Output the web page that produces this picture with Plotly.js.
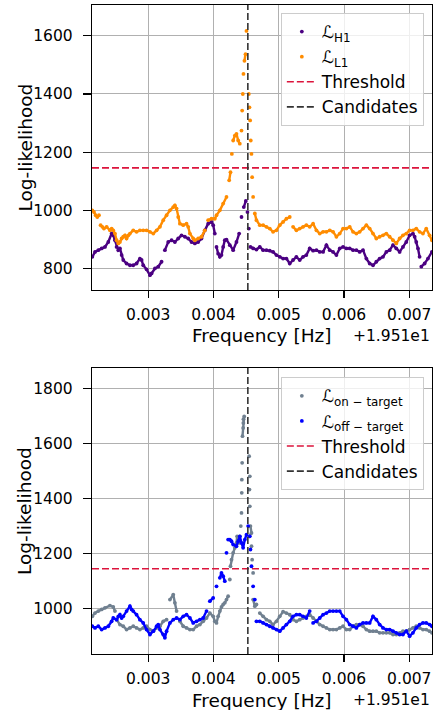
<!DOCTYPE html>
<html>
<head>
<meta charset="utf-8">
<script src="https://cdn.plot.ly/plotly-3.0.1.min.js"></script>
<style>html,body{margin:0;padding:0;background:#fff;}#chart{width:439px;height:710px;}</style>
</head>
<body>
<div id="chart"></div>
<script>
// Frequency offset (Hz) from the axis offset +1.951e1
const F0 = 19.51;
const offsetLabel = "+1.951e1";
const xTitle = "Frequency [Hz]";
const yTitle = "Log-likelihood";

// ---------- Top panel: per-detector log-likelihoods (frequency offsets in mHz) ----------
const h1FreqMHz = [2.143,2.184,2.235,2.286,2.337,2.388,2.439,2.464,2.490,2.515,2.541,2.566,2.592,2.617,2.668,2.719,2.770,2.821,2.872,2.898,2.923,2.974,3.026,3.051,3.102,3.153,3.204,3.255,3.306,3.357,3.408,3.459,3.510,3.561,3.612,3.663,3.714,3.765,3.816,3.867,3.918,3.969,3.995,4.020,4.046,4.071,4.097,4.122,4.148,4.173,4.199,4.250,4.301,4.352,4.393,4.429,4.464,4.495,4.520,4.541,4.566,4.607,4.658,4.709,4.760,4.811,4.862,4.913,4.964,5.015,5.066,5.117,5.168,5.219,5.270,5.321,5.372,5.423,5.474,5.526,5.577,5.628,5.679,5.730,5.781,5.832,5.883,5.934,5.985,6.036,6.087,6.138,6.189,6.240,6.291,6.342,6.393,6.444,6.495,6.546,6.597,6.648,6.699,6.750,6.801,6.852,6.903,6.954,7.005,7.056,7.082,7.107,7.133,7.158,7.184,7.235,7.286,7.347];
const h1LogL = [840,857,863,869,874,891,920,914,897,874,863,869,846,829,817,811,811,817,834,829,811,797,777,783,800,806,823,863,891,897,891,903,914,909,903,891,886,891,903,931,954,960,949,920,874,851,840,846,874,897,899,880,863,891,920,977,1011,1032,994,937,874,869,865,874,863,863,861,857,846,840,834,834,817,829,840,829,840,846,869,861,863,857,857,880,863,857,846,869,874,869,869,863,863,857,863,834,817,811,823,834,840,857,863,880,869,857,874,891,914,920,909,891,869,840,806,817,834,857];

const l1FreqMHz = [2.143,2.168,2.194,2.219,2.245,2.270,2.296,2.321,2.362,2.413,2.439,2.464,2.490,2.515,2.541,2.566,2.592,2.617,2.643,2.668,2.694,2.719,2.770,2.821,2.872,2.923,2.974,3.026,3.077,3.128,3.179,3.230,3.281,3.332,3.383,3.408,3.434,3.459,3.485,3.536,3.587,3.612,3.638,3.689,3.714,3.765,3.816,3.867,3.918,3.969,4.020,4.046,4.097,4.148,4.199,4.240,4.260,4.281,4.301,4.327,4.352,4.378,4.403,4.429,4.439,4.449,4.459,4.474,4.490,4.505,4.541,4.551,4.561,4.571,4.582,4.592,4.607,4.633,4.658,4.709,4.760,4.811,4.862,4.913,4.964,5.015,5.066,5.117,5.168,5.219,5.270,5.321,5.372,5.423,5.474,5.526,5.577,5.628,5.679,5.730,5.781,5.832,5.883,5.934,5.985,6.036,6.087,6.138,6.189,6.240,6.291,6.342,6.393,6.444,6.495,6.546,6.597,6.648,6.699,6.750,6.801,6.852,6.903,6.954,7.005,7.056,7.107,7.158,7.209,7.260,7.311,7.347];
const l1LogL = [1000,994,983,977,983,949,943,937,943,931,937,931,920,897,886,891,903,909,914,903,914,920,931,926,931,931,931,926,920,931,943,966,983,1000,1011,1017,1006,977,954,949,954,943,920,903,897,903,909,931,966,971,971,983,1000,1023,1046,1103,1131,1194,1240,1257,1263,1240,1229,1274,1343,1400,1469,1514,1537,1617,1400,1354,1309,1240,1194,1114,1046,989,966,949,949,943,937,926,931,949,960,971,977,943,931,937,943,949,943,954,931,920,926,926,931,926,909,920,937,937,943,926,920,926,937,949,937,920,903,909,914,920,909,897,886,903,914,920,931,931,937,926,920,937,914,897];

// ---------- Bottom panel: on-target / off-target log-likelihoods ----------
const onFreqMHz = [2.143,2.184,2.235,2.286,2.337,2.413,2.464,2.490,2.515,2.566,2.617,2.668,2.719,2.770,2.821,2.872,2.923,2.974,3.026,3.077,3.128,3.179,3.230,3.281,3.332,3.383,3.408,3.434,3.485,3.536,3.587,3.638,3.689,3.740,3.791,3.842,3.893,3.944,3.995,4.020,4.046,4.071,4.097,4.122,4.148,4.173,4.199,4.224,4.250,4.260,4.276,4.301,4.327,4.352,4.362,4.393,4.403,4.418,4.429,4.433,4.434,4.439,4.444,4.454,4.457,4.459,4.470,4.546,4.556,4.551,4.556,4.566,4.582,4.546,4.582,4.592,4.607,4.607,4.633,4.658,4.709,4.760,4.811,4.862,4.913,4.964,5.015,5.066,5.117,5.168,5.219,5.270,5.321,5.372,5.423,5.474,5.526,5.577,5.628,5.679,5.730,5.781,5.832,5.883,5.934,5.985,6.036,6.087,6.138,6.189,6.240,6.291,6.342,6.393,6.444,6.495,6.546,6.597,6.648,6.699,6.750,6.801,6.852,6.903,6.954,7.005,7.056,7.107,7.158,7.209,7.260,7.311,7.347];
const onLogL = [973,985,992,998,1004,1012,1007,992,961,943,937,925,931,937,931,925,931,937,925,919,931,937,955,961,1034,1052,1022,992,955,937,931,925,925,937,943,955,967,985,973,955,949,973,992,1007,1016,1022,1034,1046,1107,1155,1179,1204,1222,1240,1264,1240,1264,1301,1349,1422,1470,1531,1628,1658,1676,1690,1700,1555,1482,1434,1373,1301,1276,1264,1228,1179,1131,1034,1010,1016,985,973,961,955,943,955,973,990,985,979,961,955,961,967,973,979,967,955,943,937,931,925,925,925,931,937,925,925,937,943,943,937,925,919,919,919,913,913,913,913,907,907,913,919,919,925,931,937,931,925,925,919,913];

const offFreqMHz = [2.143,2.184,2.235,2.286,2.337,2.388,2.439,2.464,2.515,2.541,2.566,2.592,2.617,2.668,2.719,2.745,2.770,2.821,2.872,2.923,2.974,3.026,3.077,3.128,3.153,3.179,3.230,3.255,3.281,3.332,3.383,3.434,3.485,3.536,3.587,3.638,3.689,3.740,3.791,3.842,3.893,3.944,3.995,4.046,4.097,4.122,4.148,4.173,4.199,4.224,4.250,4.276,4.301,4.352,4.378,4.403,4.429,4.454,4.480,4.505,4.531,4.556,4.566,4.582,4.607,4.633,4.658,4.709,4.760,4.811,4.862,4.913,4.964,5.015,5.066,5.117,5.168,5.219,5.270,5.321,5.372,5.423,5.474,5.526,5.577,5.628,5.679,5.730,5.781,5.832,5.883,5.934,5.985,6.036,6.087,6.138,6.189,6.240,6.291,6.342,6.393,6.444,6.495,6.546,6.597,6.648,6.699,6.750,6.801,6.852,6.903,6.954,7.005,7.056,7.107,7.158,7.209,7.260,7.311,7.347];
const offLogL = [937,931,937,925,931,937,955,967,961,973,979,967,973,992,1010,998,992,979,961,949,925,907,919,937,943,925,907,895,919,949,961,967,961,973,979,967,949,955,961,967,992,1028,1040,1082,1113,1131,1119,1101,1204,1252,1252,1246,1234,1228,1246,1264,1240,1222,1252,1270,1301,1264,1216,1155,1082,1034,955,955,949,943,937,931,925,919,931,943,955,973,979,979,973,967,992,949,955,967,979,985,992,992,992,992,973,961,943,937,931,943,949,949,949,973,961,943,931,925,925,919,913,907,907,919,901,913,931,943,949,949,943,937];

// ---------- Reference lines ----------
const thresholdLogL = 1146;
const candidateFreqMHz = [4.526];

// ---------- Axes ----------
const xTickOffsetsMHz = [3, 4, 5, 6, 7];
const xTickLabels = ["0.003", "0.004", "0.005", "0.006", "0.007"];
const xRangeMHz = [2.138, 7.348];
const topYRange = [726, 1706];
const topYTicks = [800, 1000, 1200, 1400, 1600];
const botYRange = [836, 1876];
const botYTicks = [1000, 1200, 1400, 1600, 1800];

const toHz = a => a.map(v => F0 + v * 1e-3);
const xRange = toHz(xRangeMHz);
const FONT = "DejaVu Sans, Arial, sans-serif";
const TOP_DOM = [0.5609, 1], BOT_DOM = [0, 0.4407];

// dense band: thin connecting stroke between neighbouring samples (broken at big jumps)
const bandTrace = (fx, y, color, xa, ya) => {
  const X = [], Y = [];
  for (let i = 0; i < fx.length; i++) {
    if (i > 0 && Math.abs(y[i] - y[i - 1]) > 30) { X.push(null); Y.push(null); }
    X.push(F0 + fx[i] * 1e-3); Y.push(y[i]);
  }
  return {type: "scatter", mode: "lines", x: X, y: Y, xaxis: xa, yaxis: ya,
          showlegend: false, hoverinfo: "skip", connectgaps: false,
          line: {color: color, width: 2.4}};
};
const markerTrace = (fx, y, name, color, xa, ya, legend) => ({
  type: "scatter", mode: "markers", x: toHz(fx), y: y, name: name,
  xaxis: xa, yaxis: ya, legend: legend,
  marker: {color: color, size: 3.8, line: {width: 0}}
});
const thrTrace = (xa, ya, legend) => ({
  type: "scatter", mode: "lines", x: xRange, y: [thresholdLogL, thresholdLogL],
  name: "Threshold", xaxis: xa, yaxis: ya, legend: legend,
  line: {color: "#DC143C", width: 1.6, dash: "7px,3px"}
});
const candTrace = (xa, ya, legend, yr) => ({
  type: "scatter", mode: "lines",
  x: [toHz(candidateFreqMHz)[0], toHz(candidateFreqMHz)[0]], y: yr,
  name: "Candidates", xaxis: xa, yaxis: ya, legend: legend,
  line: {color: "#333333", width: 1.6, dash: "7px,3px"}
});

const data = [
  bandTrace(h1FreqMHz, h1LogL, "#4B0082", "x", "y"),
  markerTrace(h1FreqMHz, h1LogL, "ℒ<sub>H1</sub>", "#4B0082", "x", "y", "legend"),
  bandTrace(l1FreqMHz, l1LogL, "#FF8C00", "x", "y"),
  markerTrace(l1FreqMHz, l1LogL, "ℒ<sub>L1</sub>", "#FF8C00", "x", "y", "legend"),
  thrTrace("x", "y", "legend"),
  candTrace("x", "y", "legend", topYRange),
  bandTrace(onFreqMHz, onLogL, "#708090", "x2", "y2"),
  markerTrace(onFreqMHz, onLogL, "ℒ<sub>on − target</sub>", "#708090", "x2", "y2", "legend2"),
  bandTrace(offFreqMHz, offLogL, "#0000FF", "x2", "y2"),
  markerTrace(offFreqMHz, offLogL, "ℒ<sub>off − target</sub>", "#0000FF", "x2", "y2", "legend2"),
  thrTrace("x2", "y2", "legend2"),
  candTrace("x2", "y2", "legend2", botYRange)
];

const xAxisBase = (anchor) => ({
  anchor: anchor, range: xRange, tickmode: "array",
  tickvals: toHz(xTickOffsetsMHz), ticktext: xTickLabels,
  showgrid: true, gridcolor: "#b0b0b0", gridwidth: 1, zeroline: false,
  showline: true, mirror: true, linecolor: "#000", linewidth: 1.2,
  ticks: "outside", ticklen: 7, tickwidth: 1.2, tickcolor: "#000",
  ticklabelstandoff: 3,
  tickfont: {family: FONT, size: 15.5, color: "#000"},
  automargin: false
});
const yAxisBase = (anchor, dom, rng, ticks) => ({
  anchor: anchor, domain: dom, range: rng, tickmode: "array", tickvals: ticks,
  showgrid: true, gridcolor: "#b0b0b0", gridwidth: 1, zeroline: false,
  showline: true, mirror: true, linecolor: "#000", linewidth: 1.2,
  ticks: "outside", ticklen: 8, tickwidth: 1.2, tickcolor: "#000",
  ticklabelstandoff: 7,
  tickfont: {family: FONT, size: 15.5, color: "#000"},
  automargin: false
});

const legendBase = (y) => ({
  x: 0.976, xanchor: "right", y: y, yanchor: "top",
  bgcolor: "rgba(255,255,255,0.8)", bordercolor: "#cccccc", borderwidth: 1,
  font: {family: FONT, size: 17, color: "#000"}, tracegroupgap: 0
});

const titleFont = {family: FONT, size: 18.5, color: "#000"};
const tickFont = {family: FONT, size: 15.5, color: "#000"};
const panelAnnotations = (dom) => [
  {xref: "paper", yref: "paper", x: 0.5, y: dom[0], xanchor: "center", yanchor: "middle", yshift: -46,
   text: xTitle, showarrow: false, font: titleFont},
  {xref: "paper", yref: "paper", x: 1, y: dom[0], xanchor: "right", yanchor: "middle", yshift: -46,
   text: offsetLabel, showarrow: false, font: tickFont},
  {xref: "paper", yref: "paper", x: 0, y: (dom[0] + dom[1]) / 2, xanchor: "center", yanchor: "middle", xshift: -67,
   textangle: -90, text: yTitle, showarrow: false, font: titleFont}
];

const layout = {
  width: 439, height: 710,
  margin: {l: 92, r: 7, t: 5, b: 56},
  paper_bgcolor: "#fff", plot_bgcolor: "#fff",
  showlegend: true,
  xaxis: xAxisBase("y"),
  yaxis: yAxisBase("x", TOP_DOM, topYRange, topYTicks),
  xaxis2: xAxisBase("y2"),
  yaxis2: yAxisBase("x2", BOT_DOM, botYRange, botYTicks),
  legend: legendBase(0.9877),
  legend2: legendBase(0.4264),
  annotations: panelAnnotations(TOP_DOM).concat(panelAnnotations(BOT_DOM))
};

Plotly.newPlot("chart", data, layout, {displayModeBar: false, staticPlot: true});
</script>
</body>
</html>
